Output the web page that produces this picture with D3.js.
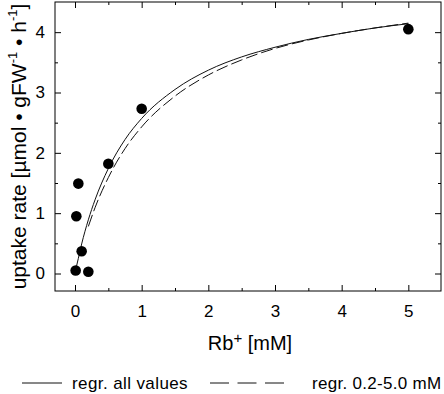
<!DOCTYPE html>
<html>
<head>
<meta charset="utf-8">
<script src="https://cdn.jsdelivr.net/npm/d3@7"></script>
<style>
  body { margin: 0; background: #fff; }
  svg { display: block; font-family: Arial, "Liberation Sans", sans-serif; }
</style>
</head>
<body>
<svg id="chart" width="444" height="394"></svg>
<script>
// measured points: Rb+ concentration (mM) vs uptake rate
var rbConc = [0.01, 0.02, 0.05, 0.1, 0.2, 0.5, 1.0, 5.0];
var uptake = [0.05, 0.95, 1.49, 0.37, 0.03, 1.82, 2.73, 4.05];

// regression curve, all values
var fitAllX = [0.01, 0.05, 0.1, 0.2, 0.3, 0.5, 0.75, 1.0, 1.5, 2.0, 2.5, 3.0, 3.5, 4.0, 4.5, 5.0];
var fitAllY = [0.06, 0.25, 0.49, 0.89, 1.22, 1.74, 2.22, 2.57, 3.05, 3.37, 3.59, 3.75, 3.88, 3.98, 4.07, 4.14];

// regression curve, 0.2-5.0 mM only
var fitSubX = [0.2, 0.3, 0.5, 0.75, 1.0, 1.5, 2.0, 2.5, 3.0, 3.5, 4.0, 4.5, 5.0];
var fitSubY = [0.78, 1.09, 1.59, 2.07, 2.43, 2.94, 3.29, 3.54, 3.73, 3.87, 3.98, 4.07, 4.15];

var xTicks = [0, 1, 2, 3, 4, 5];
var yTicks = [0, 1, 2, 3, 4];
var xMinor = [0.5, 1.5, 2.5, 3.5, 4.5];
var yMinor = [0.5, 1.5, 2.5, 3.5];
var legendLabels = ["regr. all values", "regr. 0.2-5.0 mM"];

var margin = { top: 2, right: 3, bottom: 103, left: 55 },
  width = 444 - margin.left - margin.right,
  height = 394 - margin.top - margin.bottom;

var svg = d3.select("#chart");
var g = svg.append("g")
  .attr("transform", "translate(" + margin.left + "," + margin.top + ")");

var x = d3.scaleLinear().domain([-0.3, 5.49]).range([0, width]);
var y = d3.scaleLinear().domain([-0.29, 4.5]).range([height, 0]);

// frame
g.append("rect")
  .attr("width", width)
  .attr("height", height)
  .attr("fill", "none")
  .attr("stroke", "#000")
  .attr("stroke-width", 1);

function styleAxis(sel) {
  sel.select(".domain").remove();
  sel.selectAll(".tick line").attr("stroke", "#000");
  sel.selectAll("text").attr("fill", "#000").style("font-size", "17px");
}

// major ticks, all four sides, pointing inward
g.append("g")
  .attr("transform", "translate(0," + height + ")")
  .call(d3.axisBottom(x).tickValues(xTicks).tickSize(-6).tickPadding(14).tickFormat(d3.format("d")))
  .call(styleAxis);
g.append("g")
  .call(d3.axisTop(x).tickValues(xTicks).tickSize(-6).tickFormat(""))
  .call(styleAxis);
g.append("g")
  .call(d3.axisLeft(y).tickValues(yTicks).tickSize(-6).tickPadding(10).tickFormat(d3.format("d")))
  .call(styleAxis);
g.append("g")
  .attr("transform", "translate(" + width + ",0)")
  .call(d3.axisRight(y).tickValues(yTicks).tickSize(-6).tickFormat(""))
  .call(styleAxis);

// minor ticks
g.append("g")
  .attr("transform", "translate(0," + height + ")")
  .call(d3.axisBottom(x).tickValues(xMinor).tickSize(-3).tickFormat(""))
  .call(styleAxis);
g.append("g")
  .call(d3.axisTop(x).tickValues(xMinor).tickSize(-3).tickFormat(""))
  .call(styleAxis);
g.append("g")
  .call(d3.axisLeft(y).tickValues(yMinor).tickSize(-3).tickFormat(""))
  .call(styleAxis);
g.append("g")
  .attr("transform", "translate(" + width + ",0)")
  .call(d3.axisRight(y).tickValues(yMinor).tickSize(-3).tickFormat(""))
  .call(styleAxis);

// regression curves
var line = d3.line()
  .x(function (d) { return x(d[0]); })
  .y(function (d) { return y(d[1]); })
  .curve(d3.curveMonotoneX);

g.append("path")
  .datum(d3.zip(fitAllX, fitAllY))
  .attr("d", line)
  .attr("fill", "none")
  .attr("stroke", "#111")
  .attr("stroke-width", 1);

g.append("path")
  .datum(d3.zip(fitSubX, fitSubY))
  .attr("d", line)
  .attr("fill", "none")
  .attr("stroke", "#111")
  .attr("stroke-width", 1)
  .attr("stroke-dasharray", "12,4");

// data points
g.selectAll("circle.pt")
  .data(d3.zip(rbConc, uptake))
  .enter()
  .append("circle")
  .attr("class", "pt")
  .attr("cx", function (d) { return x(d[0]); })
  .attr("cy", function (d) { return y(d[1]); })
  .attr("r", 5.3)
  .attr("fill", "#000");

// x axis title
var xt = svg.append("text")
  .attr("x", 250)
  .attr("y", 350)
  .attr("text-anchor", "middle")
  .style("font-size", "20px")
  .attr("fill", "#000");
xt.append("tspan").text("Rb");
xt.append("tspan").attr("dy", -7).style("font-size", "15px").text("+");
xt.append("tspan").attr("dy", 7).text(" [mM]");

// y axis title
var yt = svg.append("text")
  .attr("transform", "translate(26," + (margin.top + height / 2) + ") rotate(-90)")
  .attr("text-anchor", "middle")
  .style("font-size", "21px")
  .attr("fill", "#000");
yt.append("tspan").text("uptake rate [µmol • gFW");
yt.append("tspan").attr("dy", -9).style("font-size", "13px").text("-1");
yt.append("tspan").attr("dy", 9).text(" • h");
yt.append("tspan").attr("dy", -9).style("font-size", "13px").text("-1");
yt.append("tspan").attr("dy", 9).text("]");

// legend
var leg = svg.append("g");
leg.append("line")
  .attr("x1", 22).attr("x2", 62).attr("y1", 383).attr("y2", 383)
  .attr("stroke", "#111").attr("stroke-width", 1);
leg.append("text")
  .attr("x", 72).attr("y", 389)
  .style("font-size", "17px").style("letter-spacing", "0.4px").attr("fill", "#000")
  .text(legendLabels[0]);
leg.append("line")
  .attr("x1", 210).attr("x2", 284).attr("y1", 383).attr("y2", 383)
  .attr("stroke", "#111").attr("stroke-width", 1)
  .attr("stroke-dasharray", "19,8.5");
leg.append("text")
  .attr("x", 312).attr("y", 389)
  .style("font-size", "17px").style("letter-spacing", "0.3px").attr("fill", "#000")
  .text(legendLabels[1]);
</script>
</body>
</html>
